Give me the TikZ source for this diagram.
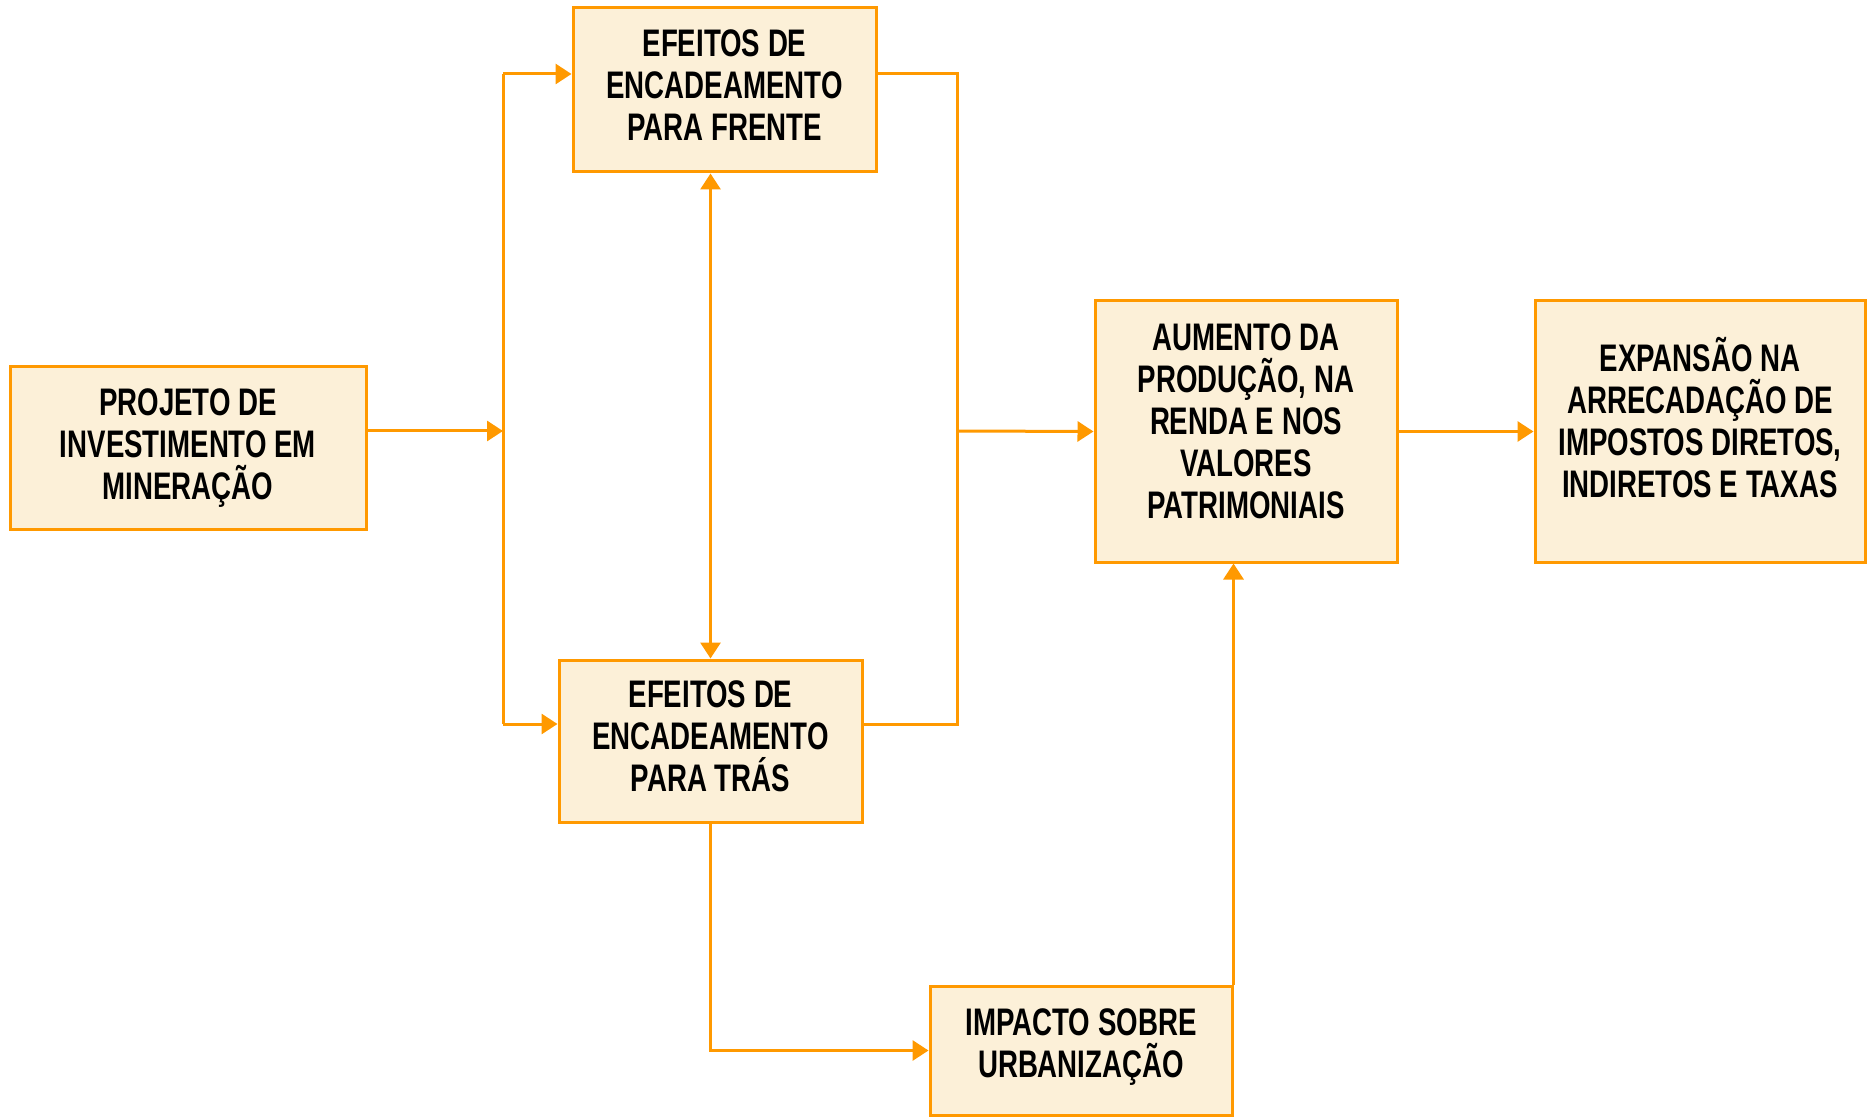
\documentclass[tikz,border=0pt]{standalone}
\usepackage{fontspec}
\setmainfont{Liberation Sans}[FakeStretch=0.72]
\usetikzlibrary{arrows.meta}
\definecolor{laranja}{RGB}{255,153,0}
\definecolor{creme}{RGB}{252,240,216}
\newcommand{\baixo}[1]{\rule[-#1]{0pt}{0pt}}

\begin{document}
\begin{tikzpicture}[x=0.5pt,y=-0.5pt,>={Triangle[length=8pt,width=10pt]}]
        \useasboundingbox (0,0) rectangle (1874,1117);

        \begin{scope}[every node/.style={draw=laranja, fill=creme, line width=1.5pt, align=center, inner sep=0pt, font=\fontsize{19.2}{21}\selectfont\bfseries}]
          \node[minimum width=178pt, minimum height=81pt]   (1) at (188,448)    {PROJETO DE\\INVESTIMENTO EM\\MINERAÇÃO};
          \node[minimum width=151.5pt, minimum height=82pt] (2) at (724.5,90)   {EFEITOS DE\\ENCADEAMENTO\\PARA FRENTE\baixo{4.8pt}};
          \node[minimum width=151.5pt, minimum height=81pt] (3) at (710.5,741)  {EFEITOS DE\\ENCADEAMENTO\\PARA TRÁS\baixo{4.8pt}};
          \node[minimum width=151pt, minimum height=130.5pt] (4) at (1246,431.5) {AUMENTO DA\\PRODUÇÃO, NA\\RENDA E NOS\\VALORES\\PATRIMONIAIS\baixo{10.8pt}};
          \node[minimum width=165pt, minimum height=130.5pt] (5) at (1700,431.5) {EXPANSÃO NA\\ARRECADAÇÃO DE\\IMPOSTOS DIRETOS,\\INDIRETOS E TAXAS\baixo{14.4pt}};
          \node[minimum width=151pt, minimum height=64.5pt] (6) at (1081,1050.5) {IMPACTO SOBRE\\URBANIZAÇÃO\baixo{7.4pt}};
        \end{scope}

        \coordinate (a) at (503,431);
        \coordinate (b) at (503,74);
        \coordinate (c) at (503,724);
        \coordinate (d) at (957,74);
        \coordinate (e) at (957,724);
        \coordinate (f) at (957,431);

        \begin{scope}[color=laranja, line width=1.5pt]
          \draw[->] (1.east |- a) -- (a);
          \draw (b) -- (c);
          \draw[->] (b) -- (2.west |- b);
          \draw[->] (c) -- (3.west |- c);
          \draw (2.east |- d) -- (d) -- (e) -- (3.east |- e);
          \draw[->] (f) -- (4.west);
          \draw[->] (4.east) -- (5.west);
          \draw[<->] (3.north) -- (3.north |- 2.south);
          \draw[->] (3.south) |- (6.west);
          \draw[->] (6.north east) -- (6.north east |- 4.south);
        \end{scope}

      \end{tikzpicture}
\end{document}
